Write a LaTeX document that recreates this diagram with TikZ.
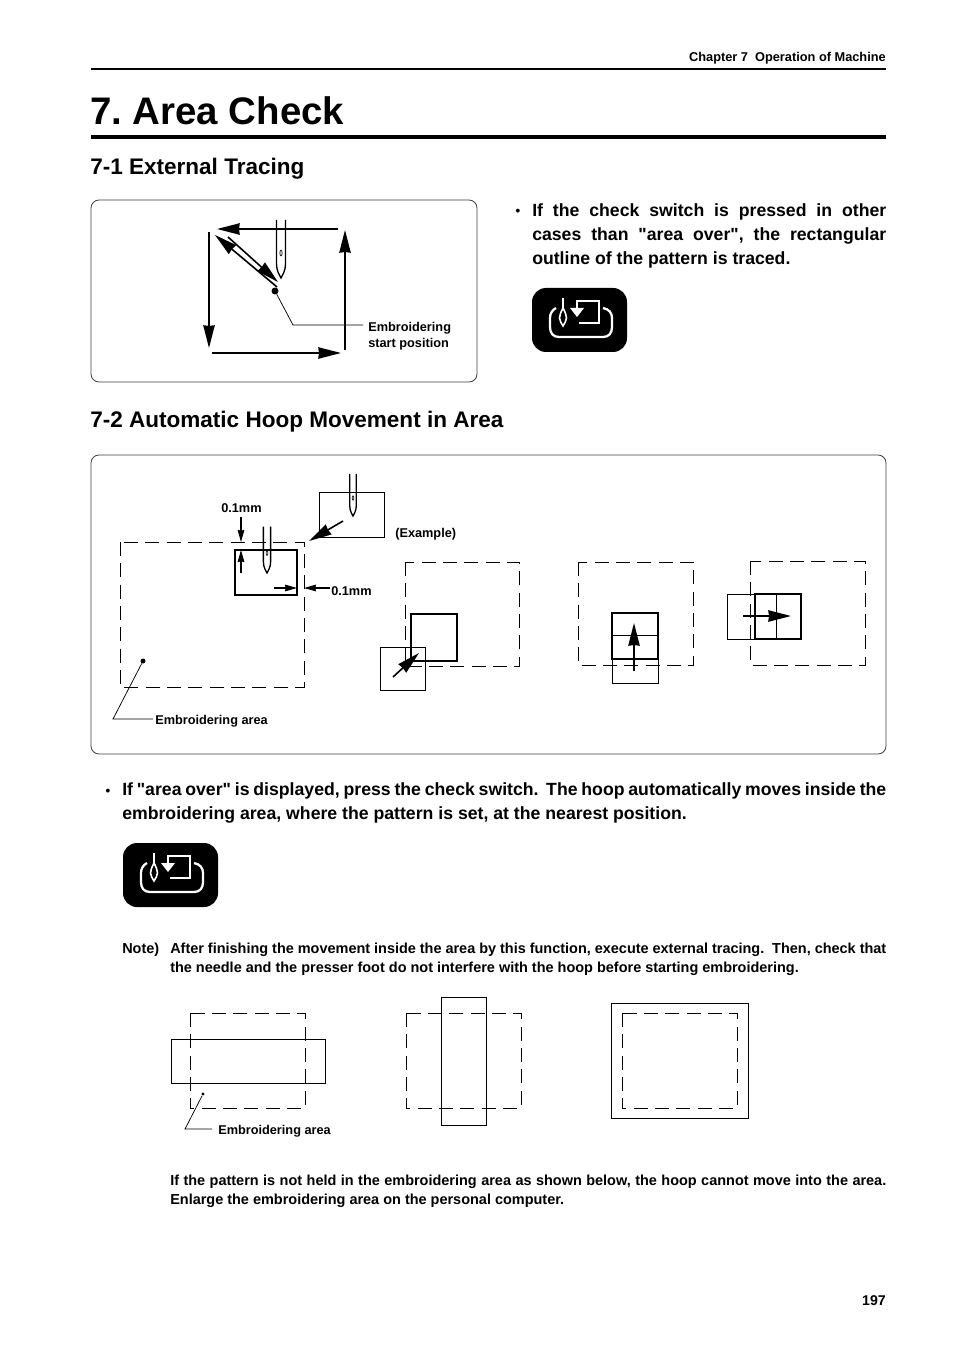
\documentclass[tikz,border=0pt]{standalone}
\usepackage{fontspec}
\setmainfont[Ligatures=TeXOff]{Liberation Sans}
\usepackage{xcolor}
\usetikzlibrary{arrows.meta,positioning,calc}
\frenchspacing

\begin{document}
\begin{tikzpicture}[x=0.75pt,y=-0.75pt,
  hd/.style={font=\fontsize{28.8}{32}\selectfont\bfseries,inner sep=0pt,anchor=base west},
  sec/.style={font=\fontsize{16.9}{20}\selectfont\bfseries,inner sep=0pt,anchor=base west},
  para/.style={font=\fontsize{13.25}{18}\selectfont\bfseries,inner sep=0pt,anchor=north west,align=justify},
  nt/.style={font=\fontsize{10.85}{14.25}\selectfont\bfseries,inner sep=0pt,anchor=north west,align=justify},
  lb/.style={font=\fontsize{9.55}{12}\selectfont\bfseries,inner sep=0pt,anchor=base west,align=left},
  bul/.style={font=\fontsize{10}{12}\selectfont\bfseries,inner sep=0pt,anchor=base},
  bx/.style={draw=black!75,line width=0.6pt,rounded corners=6pt},
  area/.style={line width=0.55pt,dash pattern=on 10.5pt off 5.5pt},
  thn/.style={line width=0.55pt},
  thk/.style={line width=1.25pt},
  arr/.style={line width=1.2pt,-{Stealth[length=17pt,width=8.5pt,inset=0.5pt]}},
  arrs/.style={line width=0.8pt,-{Stealth[length=9pt,width=5pt,inset=0.5pt]}},
  ball/.style={circle,fill=black,inner sep=0pt,minimum size=#1},
  needle/.pic={
    \draw[line width=1pt] (-4.5,-58) -- (-4.5,-14) .. controls (-4.5,-7) and (-1.5,-3) .. (0,0)
      .. controls (1.5,-3) and (4.5,-7) .. (4.5,-14) -- (4.5,-58);
    \draw[line width=0.4pt,fill=gray!50] (0,-25) ellipse (1.2 and 3);
  },
  button/.pic={
    \fill[black,rounded corners=10.5pt] (0,0) rectangle (95,64);
    \draw[white,line width=1.7pt] (24,20) .. controls (20,22) and (18,26) .. (18,30)
      -- (18,39) .. controls (18,45) and (21,49) .. (27,49) -- (71,49) .. controls (77,49) and (80,45) .. (80,39)
      -- (80,30) .. controls (80,25) and (77,21) .. (71,20);
    \draw[white,line width=1.3pt] (31,10) -- (31,20);
    \draw[white,line width=1.2pt] (31,20) .. controls (29,24) and (27.5,27) .. (27.5,30) .. controls (27.5,33) and (29.5,35) .. (31,38)
      .. controls (32.5,35) and (34.5,33) .. (34.5,30) .. controls (34.5,27) and (33,24) .. (31,20) -- cycle;
    \draw[white,line width=2pt] (45,21) -- (45,13) -- (67,13) -- (67,35) -- (47,35);
    \fill[white] (38,20) -- (52,20) -- (45,29) -- cycle;
  }
]
\useasboundingbox (0,0) rectangle (954,1351);
\fill[white] (0,0) rectangle (954,1351);
% ---- page head ----
\node[font=\fontsize{9.58}{11}\selectfont\bfseries,inner sep=0pt,anchor=base east] (chap) at (886,62) {Chapter 7\ \ Operation of Machine};
\draw[line width=1.5pt] (91,69) -- (886,69);
\node[hd] (title) at (90,125) {7. Area Check};
\draw[line width=3pt] (91,137) -- (886,137);
% ---- 7-1 external tracing ----
\node[sec] (secA) at (90,175) {7-1 External Tracing};
\draw[bx] (91,200) rectangle (477,382);
\pic at (281,278) {needle};
\draw[arr] (338,229) -- (217,229);
\draw[arr] (209,232) -- (209,348);
\draw[arr] (212,353) -- (341,353);
\draw[arr] (345,350) -- (345,230);
\draw[arr] (277,287) -- (215,235);
\draw[arr] (228,237) -- (278,282);
\node[ball=5.25pt] (start) at (275,291) {};
\node[lb] (startlb) at (368,348) {Embroidering\\start position};
\coordinate (startknee) at (293,325);
\coordinate (startend) at (363,325);
\draw[thn] (start) -- (startknee) -- (startend);
\node[para,text width=265.5pt] (paraA) at (532,203) {If the check switch is pressed in other cases than "area over", the rectangular outline of the pattern is traced.};
\node[bul] (bulA) at (518,216) {•};
\pic at (532,288) {button};
% ---- 7-2 automatic hoop movement ----
\node[sec] (secB) at (90,427) {7-2 Automatic Hoop Movement in Area};
\draw[bx] (91,455) rectangle (886,754);
% area with the limits
\draw[area] (120,542) rectangle (304,687);
\draw[thk] (235,550) rectangle (297,595);
\pic[scale=0.8] at (267,573) {needle};
\draw[thn] (319,492) rectangle (384,537);
\pic[scale=0.72] at (353,516) {needle};
\draw[arr] (343,521) -- (309,541);
\draw[arrs] (241,517) -- (241,542);
\draw[arrs] (241,573) -- (241,550);
\draw[arrs] (274,588) -- (297,588);
\draw[arrs] (330,588) -- (304,588);
\node[lb] (dimA) at (221,512) {0.1mm};
\node[lb] (dimB) at (331,595) {0.1mm};
\node[lb] (expl) at (395,537) {(Example)};
\node[ball=3.75pt] (dotA) at (143,661) {};
\coordinate (kneeA) at (113,719);
\node[lb] (areaA) at (155,724) {Embroidering area};
\draw[thn] (dotA) -- (kneeA) -- (153,719);
% three moves
\draw[area] (405,562) rectangle (519,666);
\draw[thk] (411,614) rectangle (457,661);
\draw[thn] (380,647) rectangle (425,690);
\draw[arr] (393,677) -- (419,653);
\draw[area] (578,562) rectangle (693,665);
\draw[thk] (612,613) rectangle (658,659);
\draw[thn] (612,635) rectangle (658,683);
\draw[arr] (634,671) -- (634,623);
\draw[area] (750,561) rectangle (865,665);
\draw[thk] (755,594) rectangle (801,639);
\draw[thn] (727,594) rectangle (776,639);
\draw[arr] (743,616) -- (791,616);
% text under the frame
\node[para,text width=573pt] (paraB) at (122,782) {If "area over" is displayed, press the check switch.\ \ The hoop automatically moves inside the\linebreak embroidering area, where the pattern is set, at the nearest position.};
\node[bul] (bulB) at (108,795) {•};
\pic at (123,843) {button};
\node[nt] (noteh) at (122,943) {Note)};
\node[nt,text width=537pt] (note) at (170,943) {After finishing the movement inside the area by this function, execute external tracing.\ \ Then, check that the needle and the presser foot do not interfere with the hoop before starting embroidering.};
% ---- not held cases ----
\draw[area] (190,1013) rectangle (305,1108);
\draw[thn] (171,1039) rectangle (325,1083);
\node[ball=2.5pt] (dotB) at (203,1094) {};
\coordinate (kneeB) at (185,1129);
\node[lb] (areaB) at (218,1134) {Embroidering area};
\draw[thn] (dotB) -- (kneeB) -- (212,1129);
\draw[area] (406,1013) rectangle (521,1108);
\draw[thn] (441,997) rectangle (486,1125);
\draw[thn] (611,1003) rectangle (748,1118);
\draw[area] (622,1013) rectangle (737,1108);
\node[nt,text width=537pt] (paraC) at (170,1175) {If the pattern is not held in the embroidering area as shown below, the hoop cannot move into the area. Enlarge the embroidering area on the personal computer.};
\node[font=\fontsize{10.6}{13}\selectfont\bfseries,inner sep=0pt,anchor=base east] (pageno) at (886,1305) {197};
\end{tikzpicture}
\end{document}
